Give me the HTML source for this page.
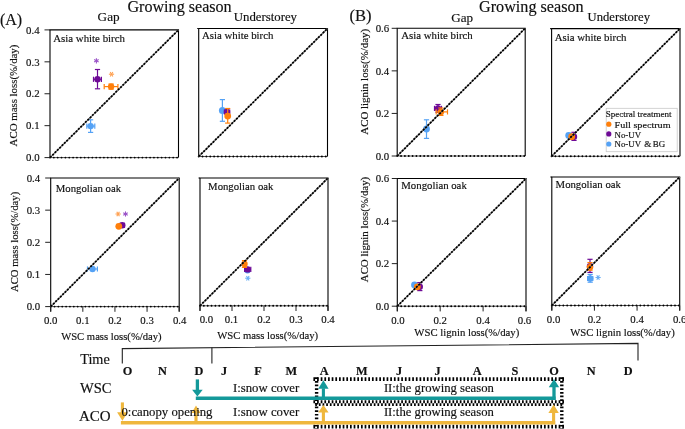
<!DOCTYPE html><html><head><meta charset="utf-8"><style>html,body{margin:0;padding:0;background:#fff;}svg{display:block;will-change:transform;filter:blur(0.3px);}</style></head><body>
<svg width="685" height="429" viewBox="0 0 685 429" font-family="'Liberation Serif', serif" fill="#111"><style>text{stroke:#111;stroke-width:0.16px;}</style>
<rect width="685" height="429" fill="#fff"/>
<line x1="50" y1="29.9" x2="50" y2="157.6" stroke="#000" stroke-width="1.1" />
<line x1="49.45" y1="29.9" x2="179.05" y2="29.9" stroke="#000" stroke-width="1.1" />
<line x1="178.5" y1="29.9" x2="178.5" y2="157.6" stroke="#000" stroke-width="1.1" />
<line x1="50" y1="157.6" x2="178.5" y2="157.6" stroke="#555" stroke-width="1.0" />
<line x1="50" y1="157.6" x2="178.5" y2="157.6" stroke="#000" stroke-width="1.9" stroke-linecap="round" stroke-dasharray="0 3.85"/>
<line x1="90.6" y1="119.8" x2="90.6" y2="132.4" stroke="#55a2f5" stroke-width="1.2" />
<line x1="88" y1="119.8" x2="93.2" y2="119.8" stroke="#55a2f5" stroke-width="1.2" />
<line x1="88" y1="132.4" x2="93.2" y2="132.4" stroke="#55a2f5" stroke-width="1.2" />
<line x1="86.8" y1="126.1" x2="94.8" y2="126.1" stroke="#55a2f5" stroke-width="1.2" />
<line x1="86.8" y1="123.5" x2="86.8" y2="128.7" stroke="#55a2f5" stroke-width="1.2" />
<line x1="94.8" y1="123.5" x2="94.8" y2="128.7" stroke="#55a2f5" stroke-width="1.2" />
<circle cx="90.6" cy="126.1" r="3.2" fill="#55a2f5"/>
<line x1="97.5" y1="69.5" x2="97.5" y2="88.8" stroke="#6e0a96" stroke-width="1.2" />
<line x1="94.9" y1="69.5" x2="100.1" y2="69.5" stroke="#6e0a96" stroke-width="1.2" />
<line x1="94.9" y1="88.8" x2="100.1" y2="88.8" stroke="#6e0a96" stroke-width="1.2" />
<line x1="93.5" y1="79.3" x2="101.4" y2="79.3" stroke="#6e0a96" stroke-width="1.2" />
<line x1="93.5" y1="76.7" x2="93.5" y2="81.9" stroke="#6e0a96" stroke-width="1.2" />
<line x1="101.4" y1="76.7" x2="101.4" y2="81.9" stroke="#6e0a96" stroke-width="1.2" />
<circle cx="97.5" cy="79.3" r="3.2" fill="#6e0a96"/>
<line x1="111.1" y1="84" x2="111.1" y2="89.2" stroke="#ff7f0a" stroke-width="1.2" />
<line x1="108.5" y1="84" x2="113.7" y2="84" stroke="#ff7f0a" stroke-width="1.2" />
<line x1="108.5" y1="89.2" x2="113.7" y2="89.2" stroke="#ff7f0a" stroke-width="1.2" />
<line x1="104.2" y1="86.6" x2="117.9" y2="86.6" stroke="#ff7f0a" stroke-width="1.2" />
<line x1="104.2" y1="84" x2="104.2" y2="89.2" stroke="#ff7f0a" stroke-width="1.2" />
<line x1="117.9" y1="84" x2="117.9" y2="89.2" stroke="#ff7f0a" stroke-width="1.2" />
<circle cx="111.1" cy="86.6" r="3.2" fill="#ff7f0a"/>
<line x1="96.4" y1="58.2" x2="96.4" y2="63.4" stroke="#9b55c8" stroke-width="1.1" />
<line x1="98.65" y1="59.5" x2="94.15" y2="62.1" stroke="#9b55c8" stroke-width="1.1" />
<line x1="98.65" y1="62.1" x2="94.15" y2="59.5" stroke="#9b55c8" stroke-width="1.1" />
<line x1="108.9" y1="74.2" x2="114.1" y2="74.2" stroke="#ffa050" stroke-width="1.1" />
<line x1="110.2" y1="71.95" x2="112.8" y2="76.45" stroke="#ffa050" stroke-width="1.1" />
<line x1="112.8" y1="71.95" x2="110.2" y2="76.45" stroke="#ffa050" stroke-width="1.1" />
<line x1="50" y1="157.6" x2="178.5" y2="29.9" stroke="#777" stroke-width="1.1"/>
<line x1="50" y1="157.6" x2="178.5" y2="29.9" stroke="#000" stroke-width="1.75" stroke-dasharray="2.1 1.2"/>
<line x1="44.5" y1="157.6" x2="50" y2="157.6" stroke="#222" stroke-width="1.0" />
<text x="39.6" y="161.3" font-size="10.8" text-anchor="end" font-weight="normal" >0.0</text>
<line x1="44.5" y1="125.67" x2="50" y2="125.67" stroke="#222" stroke-width="1.0" />
<text x="39.6" y="129.38" font-size="10.8" text-anchor="end" font-weight="normal" >0.1</text>
<line x1="44.5" y1="93.75" x2="50" y2="93.75" stroke="#222" stroke-width="1.0" />
<text x="39.6" y="97.45" font-size="10.8" text-anchor="end" font-weight="normal" >0.2</text>
<line x1="44.5" y1="61.83" x2="50" y2="61.83" stroke="#222" stroke-width="1.0" />
<text x="39.6" y="65.53" font-size="10.8" text-anchor="end" font-weight="normal" >0.3</text>
<line x1="44.5" y1="29.9" x2="50" y2="29.9" stroke="#222" stroke-width="1.0" />
<text x="39.6" y="33.6" font-size="10.8" text-anchor="end" font-weight="normal" >0.4</text>
<text x="53.2" y="41.7" font-size="10.8" text-anchor="start" font-weight="normal"  textLength="71.8" lengthAdjust="spacingAndGlyphs">Asia white birch</text>
<line x1="198.7" y1="28.5" x2="198.7" y2="156.5" stroke="#000" stroke-width="1.1" />
<line x1="198.15" y1="28.5" x2="328.05" y2="28.5" stroke="#000" stroke-width="1.1" />
<line x1="327.5" y1="28.5" x2="327.5" y2="156.5" stroke="#000" stroke-width="1.1" />
<line x1="198.7" y1="156.5" x2="327.5" y2="156.5" stroke="#555" stroke-width="1.0" />
<line x1="198.7" y1="156.5" x2="327.5" y2="156.5" stroke="#000" stroke-width="1.9" stroke-linecap="round" stroke-dasharray="0 3.85"/>
<line x1="222.4" y1="99.6" x2="222.4" y2="121.3" stroke="#55a2f5" stroke-width="1.2" />
<line x1="219.8" y1="99.6" x2="225" y2="99.6" stroke="#55a2f5" stroke-width="1.2" />
<line x1="219.8" y1="121.3" x2="225" y2="121.3" stroke="#55a2f5" stroke-width="1.2" />
<circle cx="222.4" cy="110.5" r="3.5" fill="#55a2f5"/>
<line x1="224.4" y1="112" x2="229.7" y2="112" stroke="#6e0a96" stroke-width="1.2" />
<line x1="224.4" y1="109.4" x2="224.4" y2="114.6" stroke="#6e0a96" stroke-width="1.2" />
<line x1="229.7" y1="109.4" x2="229.7" y2="114.6" stroke="#6e0a96" stroke-width="1.2" />
<circle cx="227" cy="112" r="3.2" fill="#6e0a96"/>
<line x1="227.7" y1="108.5" x2="227.7" y2="123.1" stroke="#ff7f0a" stroke-width="1.2" />
<line x1="225.1" y1="108.5" x2="230.3" y2="108.5" stroke="#ff7f0a" stroke-width="1.2" />
<line x1="225.1" y1="123.1" x2="230.3" y2="123.1" stroke="#ff7f0a" stroke-width="1.2" />
<circle cx="227.7" cy="116.1" r="3.4" fill="#ff7f0a"/>
<line x1="198.7" y1="156.5" x2="327.5" y2="28.5" stroke="#777" stroke-width="1.1"/>
<line x1="198.7" y1="156.5" x2="327.5" y2="28.5" stroke="#000" stroke-width="1.75" stroke-dasharray="2.1 1.2"/>
<line x1="197.2" y1="28.5" x2="198.7" y2="28.5" stroke="#111" stroke-width="1.2" />
<text x="201.9" y="39.4" font-size="10.8" text-anchor="start" font-weight="normal"  textLength="71.5" lengthAdjust="spacingAndGlyphs">Asia white birch</text>
<line x1="50.7" y1="178" x2="50.7" y2="311.6" stroke="#000" stroke-width="1.1" />
<line x1="50.15" y1="178" x2="179.75" y2="178" stroke="#000" stroke-width="1.1" />
<line x1="179.2" y1="178" x2="179.2" y2="311.6" stroke="#000" stroke-width="1.1" />
<line x1="50.7" y1="306.6" x2="179.2" y2="306.6" stroke="#555" stroke-width="1.0" />
<line x1="50.7" y1="306.6" x2="179.2" y2="306.6" stroke="#000" stroke-width="1.9" stroke-linecap="round" stroke-dasharray="0 3.85"/>
<line x1="87.5" y1="269" x2="97.4" y2="269" stroke="#55a2f5" stroke-width="1.2" />
<line x1="87.5" y1="266.4" x2="87.5" y2="271.6" stroke="#55a2f5" stroke-width="1.2" />
<line x1="97.4" y1="266.4" x2="97.4" y2="271.6" stroke="#55a2f5" stroke-width="1.2" />
<circle cx="92.5" cy="269" r="3.2" fill="#55a2f5"/>
<line x1="120.2" y1="225.3" x2="124.5" y2="225.3" stroke="#6e0a96" stroke-width="1.2" />
<line x1="120.2" y1="222.7" x2="120.2" y2="227.9" stroke="#6e0a96" stroke-width="1.2" />
<line x1="124.5" y1="222.7" x2="124.5" y2="227.9" stroke="#6e0a96" stroke-width="1.2" />
<circle cx="122.2" cy="225.3" r="3.2" fill="#6e0a96"/>
<circle cx="118.8" cy="226.3" r="3.4" fill="#ff7f0a"/>
<line x1="115.5" y1="214" x2="120.7" y2="214" stroke="#ffa050" stroke-width="1.1" />
<line x1="116.8" y1="211.75" x2="119.4" y2="216.25" stroke="#ffa050" stroke-width="1.1" />
<line x1="119.4" y1="211.75" x2="116.8" y2="216.25" stroke="#ffa050" stroke-width="1.1" />
<line x1="125.5" y1="211.4" x2="125.5" y2="216.6" stroke="#9b55c8" stroke-width="1.1" />
<line x1="127.75" y1="212.7" x2="123.25" y2="215.3" stroke="#9b55c8" stroke-width="1.1" />
<line x1="127.75" y1="215.3" x2="123.25" y2="212.7" stroke="#9b55c8" stroke-width="1.1" />
<line x1="50.7" y1="306.6" x2="179.2" y2="178" stroke="#777" stroke-width="1.1"/>
<line x1="50.7" y1="306.6" x2="179.2" y2="178" stroke="#000" stroke-width="1.75" stroke-dasharray="2.1 1.2"/>
<line x1="45.2" y1="306.6" x2="50.7" y2="306.6" stroke="#222" stroke-width="1.0" />
<text x="40.2" y="310.3" font-size="10.8" text-anchor="end" font-weight="normal" >0.0</text>
<line x1="45.2" y1="274.45" x2="50.7" y2="274.45" stroke="#222" stroke-width="1.0" />
<text x="40.2" y="278.15" font-size="10.8" text-anchor="end" font-weight="normal" >0.1</text>
<line x1="45.2" y1="242.3" x2="50.7" y2="242.3" stroke="#222" stroke-width="1.0" />
<text x="40.2" y="246" font-size="10.8" text-anchor="end" font-weight="normal" >0.2</text>
<line x1="45.2" y1="210.15" x2="50.7" y2="210.15" stroke="#222" stroke-width="1.0" />
<text x="40.2" y="213.85" font-size="10.8" text-anchor="end" font-weight="normal" >0.3</text>
<line x1="45.2" y1="178" x2="50.7" y2="178" stroke="#222" stroke-width="1.0" />
<text x="40.2" y="181.7" font-size="10.8" text-anchor="end" font-weight="normal" >0.4</text>
<line x1="50.7" y1="306.6" x2="50.7" y2="311.8" stroke="#222" stroke-width="1.0" />
<text x="50.7" y="323.6" font-size="10.8" text-anchor="middle" font-weight="normal" >0.0</text>
<line x1="82.83" y1="306.6" x2="82.83" y2="311.8" stroke="#222" stroke-width="1.0" />
<text x="82.83" y="323.6" font-size="10.8" text-anchor="middle" font-weight="normal" >0.1</text>
<line x1="114.95" y1="306.6" x2="114.95" y2="311.8" stroke="#222" stroke-width="1.0" />
<text x="114.95" y="323.6" font-size="10.8" text-anchor="middle" font-weight="normal" >0.2</text>
<line x1="147.07" y1="306.6" x2="147.07" y2="311.8" stroke="#222" stroke-width="1.0" />
<text x="147.07" y="323.6" font-size="10.8" text-anchor="middle" font-weight="normal" >0.3</text>
<line x1="179.2" y1="306.6" x2="179.2" y2="311.8" stroke="#222" stroke-width="1.0" />
<text x="179.7" y="323.6" font-size="10.8" text-anchor="middle" font-weight="normal" >0.4</text>
<text x="55.8" y="191.5" font-size="10.8" text-anchor="start" font-weight="normal"  textLength="65.3" lengthAdjust="spacingAndGlyphs">Mongolian oak</text>
<line x1="200" y1="178" x2="200" y2="310.8" stroke="#000" stroke-width="1.1" />
<line x1="199.45" y1="178" x2="328.55" y2="178" stroke="#000" stroke-width="1.1" />
<line x1="328" y1="178" x2="328" y2="310.8" stroke="#000" stroke-width="1.1" />
<line x1="200" y1="305.8" x2="328" y2="305.8" stroke="#555" stroke-width="1.0" />
<line x1="200" y1="305.8" x2="328" y2="305.8" stroke="#000" stroke-width="1.9" stroke-linecap="round" stroke-dasharray="0 3.85"/>
<circle cx="247.5" cy="270.3" r="3.2" fill="#55a2f5"/>
<line x1="244.6" y1="269.4" x2="250.8" y2="269.4" stroke="#6e0a96" stroke-width="1.2" />
<line x1="244.6" y1="266.8" x2="244.6" y2="272" stroke="#6e0a96" stroke-width="1.2" />
<line x1="250.8" y1="266.8" x2="250.8" y2="272" stroke="#6e0a96" stroke-width="1.2" />
<circle cx="247.7" cy="269.4" r="3.2" fill="#6e0a96"/>
<line x1="244.5" y1="260.6" x2="244.5" y2="267.4" stroke="#ff7f0a" stroke-width="1.2" />
<line x1="241.9" y1="260.6" x2="247.1" y2="260.6" stroke="#ff7f0a" stroke-width="1.2" />
<line x1="241.9" y1="267.4" x2="247.1" y2="267.4" stroke="#ff7f0a" stroke-width="1.2" />
<circle cx="244.5" cy="264" r="3.2" fill="#ff7f0a"/>
<line x1="245.2" y1="278.2" x2="250.4" y2="278.2" stroke="#6aaef5" stroke-width="1.1" />
<line x1="246.5" y1="275.95" x2="249.1" y2="280.45" stroke="#6aaef5" stroke-width="1.1" />
<line x1="249.1" y1="275.95" x2="246.5" y2="280.45" stroke="#6aaef5" stroke-width="1.1" />
<line x1="200" y1="305.8" x2="328" y2="178" stroke="#777" stroke-width="1.1"/>
<line x1="200" y1="305.8" x2="328" y2="178" stroke="#000" stroke-width="1.75" stroke-dasharray="2.1 1.2"/>
<line x1="198.5" y1="178" x2="200" y2="178" stroke="#111" stroke-width="1.2" />
<line x1="200" y1="305.8" x2="200" y2="311" stroke="#222" stroke-width="1.0" />
<text x="206.4" y="322.8" font-size="10.8" text-anchor="middle" font-weight="normal" >0.0</text>
<line x1="232" y1="305.8" x2="232" y2="311" stroke="#222" stroke-width="1.0" />
<text x="231.5" y="322.8" font-size="10.8" text-anchor="middle" font-weight="normal" >0.1</text>
<line x1="264" y1="305.8" x2="264" y2="311" stroke="#222" stroke-width="1.0" />
<text x="264" y="322.8" font-size="10.8" text-anchor="middle" font-weight="normal" >0.2</text>
<line x1="296" y1="305.8" x2="296" y2="311" stroke="#222" stroke-width="1.0" />
<text x="296" y="322.8" font-size="10.8" text-anchor="middle" font-weight="normal" >0.3</text>
<line x1="328" y1="305.8" x2="328" y2="311" stroke="#222" stroke-width="1.0" />
<text x="328" y="322.8" font-size="10.8" text-anchor="middle" font-weight="normal" >0.4</text>
<text x="208.1" y="189.5" font-size="10.8" text-anchor="start" font-weight="normal"  textLength="65.3" lengthAdjust="spacingAndGlyphs">Mongolian oak</text>
<line x1="397.2" y1="28.3" x2="397.2" y2="156" stroke="#000" stroke-width="1.1" />
<line x1="396.65" y1="28.3" x2="525.75" y2="28.3" stroke="#000" stroke-width="1.1" />
<line x1="525.2" y1="28.3" x2="525.2" y2="156" stroke="#000" stroke-width="1.1" />
<line x1="397.2" y1="156" x2="525.2" y2="156" stroke="#555" stroke-width="1.0" />
<line x1="397.2" y1="156" x2="525.2" y2="156" stroke="#000" stroke-width="1.9" stroke-linecap="round" stroke-dasharray="0 3.85"/>
<line x1="426.5" y1="119.8" x2="426.5" y2="138.4" stroke="#55a2f5" stroke-width="1.2" />
<line x1="423.9" y1="119.8" x2="429.1" y2="119.8" stroke="#55a2f5" stroke-width="1.2" />
<line x1="423.9" y1="138.4" x2="429.1" y2="138.4" stroke="#55a2f5" stroke-width="1.2" />
<circle cx="426.5" cy="129" r="3.4" fill="#55a2f5"/>
<line x1="438" y1="104.5" x2="438" y2="112.3" stroke="#6e0a96" stroke-width="1.2" />
<line x1="435.4" y1="104.5" x2="440.6" y2="104.5" stroke="#6e0a96" stroke-width="1.2" />
<line x1="435.4" y1="112.3" x2="440.6" y2="112.3" stroke="#6e0a96" stroke-width="1.2" />
<line x1="434.5" y1="108.4" x2="441.5" y2="108.4" stroke="#6e0a96" stroke-width="1.2" />
<line x1="434.5" y1="105.8" x2="434.5" y2="111" stroke="#6e0a96" stroke-width="1.2" />
<line x1="441.5" y1="105.8" x2="441.5" y2="111" stroke="#6e0a96" stroke-width="1.2" />
<circle cx="438" cy="108.4" r="3.2" fill="#6e0a96"/>
<line x1="440.9" y1="108" x2="440.9" y2="115.4" stroke="#ff7f0a" stroke-width="1.2" />
<line x1="438.3" y1="108" x2="443.5" y2="108" stroke="#ff7f0a" stroke-width="1.2" />
<line x1="438.3" y1="115.4" x2="443.5" y2="115.4" stroke="#ff7f0a" stroke-width="1.2" />
<line x1="436.2" y1="111.9" x2="447.5" y2="111.9" stroke="#ff7f0a" stroke-width="1.2" />
<line x1="436.2" y1="109.3" x2="436.2" y2="114.5" stroke="#ff7f0a" stroke-width="1.2" />
<line x1="447.5" y1="109.3" x2="447.5" y2="114.5" stroke="#ff7f0a" stroke-width="1.2" />
<circle cx="440.9" cy="111.9" r="3.2" fill="#ff7f0a"/>
<line x1="397.2" y1="156" x2="525.2" y2="28.3" stroke="#777" stroke-width="1.1"/>
<line x1="397.2" y1="156" x2="525.2" y2="28.3" stroke="#000" stroke-width="1.75" stroke-dasharray="2.1 1.2"/>
<line x1="391.7" y1="156" x2="397.2" y2="156" stroke="#222" stroke-width="1.0" />
<text x="389.2" y="159.7" font-size="10.8" text-anchor="end" font-weight="normal" >0.0</text>
<line x1="391.7" y1="113.43" x2="397.2" y2="113.43" stroke="#222" stroke-width="1.0" />
<text x="389.2" y="117.13" font-size="10.8" text-anchor="end" font-weight="normal" >0.2</text>
<line x1="391.7" y1="70.87" x2="397.2" y2="70.87" stroke="#222" stroke-width="1.0" />
<text x="389.2" y="74.57" font-size="10.8" text-anchor="end" font-weight="normal" >0.4</text>
<line x1="391.7" y1="28.3" x2="397.2" y2="28.3" stroke="#222" stroke-width="1.0" />
<text x="389.2" y="32" font-size="10.8" text-anchor="end" font-weight="normal" >0.6</text>
<text x="401.3" y="39.2" font-size="10.8" text-anchor="start" font-weight="normal"  textLength="71.4" lengthAdjust="spacingAndGlyphs">Asia white birch</text>
<line x1="551.6" y1="28.6" x2="551.6" y2="156.3" stroke="#000" stroke-width="1.1" />
<line x1="551.05" y1="28.6" x2="680.55" y2="28.6" stroke="#000" stroke-width="1.1" />
<line x1="680" y1="28.6" x2="680" y2="156.3" stroke="#000" stroke-width="1.1" />
<line x1="551.6" y1="156.3" x2="680" y2="156.3" stroke="#555" stroke-width="1.0" />
<line x1="551.6" y1="156.3" x2="680" y2="156.3" stroke="#000" stroke-width="1.9" stroke-linecap="round" stroke-dasharray="0 3.85"/>
<circle cx="568.7" cy="135.5" r="3.4" fill="#55a2f5"/>
<line x1="574" y1="132.3" x2="574" y2="140.4" stroke="#6e0a96" stroke-width="1.2" />
<line x1="571.4" y1="132.3" x2="576.6" y2="132.3" stroke="#6e0a96" stroke-width="1.2" />
<line x1="571.4" y1="140.4" x2="576.6" y2="140.4" stroke="#6e0a96" stroke-width="1.2" />
<circle cx="574" cy="136.7" r="3.2" fill="#6e0a96"/>
<circle cx="571.7" cy="136.7" r="3.4" fill="#ff7f0a"/>
<line x1="551.6" y1="156.3" x2="680" y2="28.6" stroke="#777" stroke-width="1.1"/>
<line x1="551.6" y1="156.3" x2="680" y2="28.6" stroke="#000" stroke-width="1.75" stroke-dasharray="2.1 1.2"/>
<line x1="550.1" y1="28.6" x2="551.6" y2="28.6" stroke="#111" stroke-width="1.2" />
<text x="554.7" y="41.1" font-size="10.8" text-anchor="start" font-weight="normal"  textLength="71.7" lengthAdjust="spacingAndGlyphs">Asia white birch</text>
<line x1="397.3" y1="178.5" x2="397.3" y2="311.2" stroke="#000" stroke-width="1.1" />
<line x1="396.75" y1="178.5" x2="526.55" y2="178.5" stroke="#000" stroke-width="1.1" />
<line x1="526" y1="178.5" x2="526" y2="311.2" stroke="#000" stroke-width="1.1" />
<line x1="397.3" y1="306.2" x2="526" y2="306.2" stroke="#555" stroke-width="1.0" />
<line x1="397.3" y1="306.2" x2="526" y2="306.2" stroke="#000" stroke-width="1.9" stroke-linecap="round" stroke-dasharray="0 3.85"/>
<circle cx="414.5" cy="285" r="3.4" fill="#55a2f5"/>
<line x1="419.8" y1="282.6" x2="419.8" y2="290.6" stroke="#6e0a96" stroke-width="1.2" />
<line x1="417.2" y1="282.6" x2="422.4" y2="282.6" stroke="#6e0a96" stroke-width="1.2" />
<line x1="417.2" y1="290.6" x2="422.4" y2="290.6" stroke="#6e0a96" stroke-width="1.2" />
<circle cx="419.8" cy="286.8" r="3.2" fill="#6e0a96"/>
<circle cx="417.3" cy="286.8" r="3.4" fill="#ff7f0a"/>
<line x1="397.3" y1="306.2" x2="526" y2="178.5" stroke="#777" stroke-width="1.1"/>
<line x1="397.3" y1="306.2" x2="526" y2="178.5" stroke="#000" stroke-width="1.75" stroke-dasharray="2.1 1.2"/>
<line x1="391.8" y1="306.2" x2="397.3" y2="306.2" stroke="#222" stroke-width="1.0" />
<text x="389.2" y="309.9" font-size="10.8" text-anchor="end" font-weight="normal" >0.0</text>
<line x1="391.8" y1="263.63" x2="397.3" y2="263.63" stroke="#222" stroke-width="1.0" />
<text x="389.2" y="267.33" font-size="10.8" text-anchor="end" font-weight="normal" >0.2</text>
<line x1="391.8" y1="221.07" x2="397.3" y2="221.07" stroke="#222" stroke-width="1.0" />
<text x="389.2" y="224.77" font-size="10.8" text-anchor="end" font-weight="normal" >0.4</text>
<line x1="391.8" y1="178.5" x2="397.3" y2="178.5" stroke="#222" stroke-width="1.0" />
<text x="389.2" y="182.2" font-size="10.8" text-anchor="end" font-weight="normal" >0.6</text>
<line x1="397.3" y1="306.2" x2="397.3" y2="311.4" stroke="#222" stroke-width="1.0" />
<text x="397.9" y="324.2" font-size="10.8" text-anchor="middle" font-weight="normal" >0.0</text>
<line x1="440.2" y1="306.2" x2="440.2" y2="311.4" stroke="#222" stroke-width="1.0" />
<text x="440.2" y="324.2" font-size="10.8" text-anchor="middle" font-weight="normal" >0.2</text>
<line x1="483.1" y1="306.2" x2="483.1" y2="311.4" stroke="#222" stroke-width="1.0" />
<text x="483.1" y="324.2" font-size="10.8" text-anchor="middle" font-weight="normal" >0.4</text>
<line x1="526" y1="306.2" x2="526" y2="311.4" stroke="#222" stroke-width="1.0" />
<text x="524.5" y="324.2" font-size="10.8" text-anchor="middle" font-weight="normal" >0.6</text>
<text x="401.3" y="188.7" font-size="10.8" text-anchor="start" font-weight="normal"  textLength="65.5" lengthAdjust="spacingAndGlyphs">Mongolian oak</text>
<line x1="551.8" y1="177" x2="551.8" y2="310.5" stroke="#000" stroke-width="1.1" />
<line x1="551.25" y1="177" x2="680.25" y2="177" stroke="#000" stroke-width="1.1" />
<line x1="679.7" y1="177" x2="679.7" y2="310.5" stroke="#000" stroke-width="1.1" />
<line x1="551.8" y1="305.5" x2="679.7" y2="305.5" stroke="#555" stroke-width="1.0" />
<line x1="551.8" y1="305.5" x2="679.7" y2="305.5" stroke="#000" stroke-width="1.9" stroke-linecap="round" stroke-dasharray="0 3.85"/>
<line x1="590.2" y1="274.4" x2="590.2" y2="282.2" stroke="#55a2f5" stroke-width="1.2" />
<line x1="587.6" y1="274.4" x2="592.8" y2="274.4" stroke="#55a2f5" stroke-width="1.2" />
<line x1="587.6" y1="282.2" x2="592.8" y2="282.2" stroke="#55a2f5" stroke-width="1.2" />
<line x1="587.6" y1="278.5" x2="592.8" y2="278.5" stroke="#55a2f5" stroke-width="1.2" />
<line x1="587.6" y1="275.9" x2="587.6" y2="281.1" stroke="#55a2f5" stroke-width="1.2" />
<line x1="592.8" y1="275.9" x2="592.8" y2="281.1" stroke="#55a2f5" stroke-width="1.2" />
<circle cx="590.2" cy="278.5" r="3.2" fill="#55a2f5"/>
<line x1="590" y1="259.3" x2="590" y2="272.4" stroke="#6e0a96" stroke-width="1.2" />
<line x1="587.4" y1="259.3" x2="592.6" y2="259.3" stroke="#6e0a96" stroke-width="1.2" />
<line x1="587.4" y1="272.4" x2="592.6" y2="272.4" stroke="#6e0a96" stroke-width="1.2" />
<circle cx="590" cy="266.3" r="3.2" fill="#6e0a96"/>
<line x1="590" y1="262.6" x2="590" y2="270.2" stroke="#ff7f0a" stroke-width="1.2" />
<line x1="587.4" y1="262.6" x2="592.6" y2="262.6" stroke="#ff7f0a" stroke-width="1.2" />
<line x1="587.4" y1="270.2" x2="592.6" y2="270.2" stroke="#ff7f0a" stroke-width="1.2" />
<circle cx="590" cy="267.3" r="3.2" fill="#ff7f0a"/>
<line x1="595.5" y1="277.5" x2="600.7" y2="277.5" stroke="#6aaef5" stroke-width="1.1" />
<line x1="596.8" y1="275.25" x2="599.4" y2="279.75" stroke="#6aaef5" stroke-width="1.1" />
<line x1="599.4" y1="275.25" x2="596.8" y2="279.75" stroke="#6aaef5" stroke-width="1.1" />
<line x1="551.8" y1="305.5" x2="679.7" y2="177" stroke="#777" stroke-width="1.1"/>
<line x1="551.8" y1="305.5" x2="679.7" y2="177" stroke="#000" stroke-width="1.75" stroke-dasharray="2.1 1.2"/>
<line x1="550.3" y1="177" x2="551.8" y2="177" stroke="#111" stroke-width="1.2" />
<line x1="551.8" y1="305.5" x2="551.8" y2="310.7" stroke="#222" stroke-width="1.0" />
<text x="553.6" y="323.1" font-size="10.8" text-anchor="middle" font-weight="normal" >0.0</text>
<line x1="594.43" y1="305.5" x2="594.43" y2="310.7" stroke="#222" stroke-width="1.0" />
<text x="594.43" y="323.1" font-size="10.8" text-anchor="middle" font-weight="normal" >0.2</text>
<line x1="637.07" y1="305.5" x2="637.07" y2="310.7" stroke="#222" stroke-width="1.0" />
<text x="637.07" y="323.1" font-size="10.8" text-anchor="middle" font-weight="normal" >0.4</text>
<line x1="679.7" y1="305.5" x2="679.7" y2="310.7" stroke="#222" stroke-width="1.0" />
<text x="679.7" y="323.1" font-size="10.8" text-anchor="middle" font-weight="normal" >0.6</text>
<text x="555.6" y="188.2" font-size="10.8" text-anchor="start" font-weight="normal"  textLength="65.3" lengthAdjust="spacingAndGlyphs">Mongolian oak</text>
<text x="0" y="24.6" font-size="16" text-anchor="start" font-weight="normal"  textLength="22.2" lengthAdjust="spacingAndGlyphs">(A)</text>
<text x="349.5" y="20.8" font-size="16" text-anchor="start" font-weight="normal"  textLength="22" lengthAdjust="spacingAndGlyphs">(B)</text>
<text x="127.4" y="11.6" font-size="16" text-anchor="start" font-weight="normal"  textLength="104.3" lengthAdjust="spacingAndGlyphs">Growing season</text>
<text x="479" y="11.6" font-size="16" text-anchor="start" font-weight="normal"  textLength="104.6" lengthAdjust="spacingAndGlyphs">Growing season</text>
<text x="97.6" y="20.7" font-size="12.8" text-anchor="start" font-weight="normal"  textLength="22" lengthAdjust="spacingAndGlyphs">Gap</text>
<text x="451.2" y="22" font-size="12.8" text-anchor="start" font-weight="normal"  textLength="21.8" lengthAdjust="spacingAndGlyphs">Gap</text>
<text x="233.8" y="20.5" font-size="12.6" text-anchor="start" font-weight="normal"  textLength="63.2" lengthAdjust="spacingAndGlyphs">Understorey</text>
<text x="587.6" y="20.7" font-size="12.6" text-anchor="start" font-weight="normal"  textLength="62.4" lengthAdjust="spacingAndGlyphs">Understorey</text>
<text x="0" y="0" font-size="10.8" text-anchor="middle" textLength="101.8" lengthAdjust="spacingAndGlyphs" transform="translate(17.3,95.5) rotate(-90)">ACO mass loss(%/day)</text>
<text x="0" y="0" font-size="10.8" text-anchor="middle" textLength="100.2" lengthAdjust="spacingAndGlyphs" transform="translate(18,241.9) rotate(-90)">ACO mass loss(%/day)</text>
<text x="0" y="0" font-size="10.8" text-anchor="middle" textLength="105.8" lengthAdjust="spacingAndGlyphs" transform="translate(368,81.8) rotate(-90)">ACO lignin loss(%/day)</text>
<text x="0" y="0" font-size="10.8" text-anchor="middle" textLength="105.4" lengthAdjust="spacingAndGlyphs" transform="translate(368,229.5) rotate(-90)">ACO lignin loss(%/day)</text>
<text x="111.4" y="339.5" font-size="10.7" text-anchor="middle" font-weight="normal"  textLength="100.5" lengthAdjust="spacingAndGlyphs">WSC mass loss(%/day)</text>
<text x="267.7" y="339.2" font-size="10.7" text-anchor="middle" font-weight="normal"  textLength="101" lengthAdjust="spacingAndGlyphs">WSC mass loss(%/day)</text>
<text x="466.8" y="335.9" font-size="10.7" text-anchor="middle" font-weight="normal"  textLength="104.9" lengthAdjust="spacingAndGlyphs">WSC lignin loss(%/day)</text>
<text x="622.5" y="335.9" font-size="10.7" text-anchor="middle" font-weight="normal"  textLength="104.4" lengthAdjust="spacingAndGlyphs">WSC lignin loss(%/day)</text>
<rect x="606.2" y="108.3" width="71" height="43.4" fill="#fff" stroke="#c8c8c8" stroke-width="0.8"/>
<text x="605.7" y="117.2" font-size="9.1" text-anchor="start" font-weight="normal"  textLength="65.8" lengthAdjust="spacingAndGlyphs">Spectral treatment</text>
<circle cx="608.8" cy="124.2" r="2.6" fill="#ff7f0a"/>
<circle cx="608.8" cy="133.9" r="2.6" fill="#6e0a96"/>
<circle cx="608.8" cy="144" r="2.6" fill="#55a2f5"/>
<text x="614.5" y="127.7" font-size="9.2" text-anchor="start" font-weight="normal"  textLength="56.1" lengthAdjust="spacingAndGlyphs">Full spectrum</text>
<text x="614.5" y="137.6" font-size="9.2" text-anchor="start" font-weight="normal"  textLength="26.6" lengthAdjust="spacingAndGlyphs">No-UV</text>
<text x="614.5" y="147" font-size="9.2" text-anchor="start" font-weight="normal"  textLength="26.6" lengthAdjust="spacingAndGlyphs">No-UV</text>
<text x="644.2" y="147" font-size="9.2" text-anchor="start" font-weight="normal" >&amp;</text>
<text x="652.7" y="147" font-size="9.2" text-anchor="start" font-weight="normal"  textLength="12.4" lengthAdjust="spacingAndGlyphs">BG</text>
<path d="M122.3,363.5 L122.3,348.6 L638,343.4 L638,360.5" fill="none" stroke="#222" stroke-width="1.1"/>
<line x1="211.9" y1="347.6" x2="211.9" y2="363.5" stroke="#222" stroke-width="1.1" />
<text x="80.2" y="363.8" font-size="14.2" text-anchor="start" font-weight="normal"  textLength="29.6" lengthAdjust="spacingAndGlyphs">Time</text>
<text x="80" y="392.9" font-size="14.6" text-anchor="start" font-weight="normal"  textLength="31.6" lengthAdjust="spacingAndGlyphs">WSC</text>
<text x="79" y="420.5" font-size="14.6" text-anchor="start" font-weight="normal"  textLength="31.7" lengthAdjust="spacingAndGlyphs">ACO</text>
<text x="127.5" y="374.7" font-size="12.3" text-anchor="middle" font-weight="bold" >O</text>
<text x="162.4" y="374.7" font-size="12.3" text-anchor="middle" font-weight="bold" >N</text>
<text x="199" y="374.7" font-size="12.3" text-anchor="middle" font-weight="bold" >D</text>
<text x="224" y="374.7" font-size="12.3" text-anchor="middle" font-weight="bold" >J</text>
<text x="258.1" y="374.7" font-size="12.3" text-anchor="middle" font-weight="bold" >F</text>
<text x="291.4" y="374.7" font-size="12.3" text-anchor="middle" font-weight="bold" >M</text>
<text x="324.1" y="374.7" font-size="12.3" text-anchor="middle" font-weight="bold" >A</text>
<text x="361.7" y="374.7" font-size="12.3" text-anchor="middle" font-weight="bold" >M</text>
<text x="399" y="374.7" font-size="12.3" text-anchor="middle" font-weight="bold" >J</text>
<text x="437.5" y="374.7" font-size="12.3" text-anchor="middle" font-weight="bold" >J</text>
<text x="477.2" y="374.7" font-size="12.3" text-anchor="middle" font-weight="bold" >A</text>
<text x="514.9" y="374.7" font-size="12.3" text-anchor="middle" font-weight="bold" >S</text>
<text x="554.1" y="374.7" font-size="12.3" text-anchor="middle" font-weight="bold" >O</text>
<text x="591.2" y="374.7" font-size="12.3" text-anchor="middle" font-weight="bold" >N</text>
<text x="628.2" y="374.7" font-size="12.3" text-anchor="middle" font-weight="bold" >D</text>
<line x1="313.4" y1="379.1" x2="564" y2="379.1" stroke="#000" stroke-width="3.6" stroke-dasharray="1.7 1.96" stroke-dashoffset="0"/>
<line x1="313.4" y1="401.7" x2="564" y2="401.7" stroke="#000" stroke-width="2.9" stroke-dasharray="1.7 1.96" stroke-dashoffset="0"/>
<line x1="313.4" y1="404.6" x2="564" y2="404.6" stroke="#000" stroke-width="2.9" stroke-dasharray="1.7 1.96" stroke-dashoffset="1.83"/>
<line x1="313.4" y1="426.6" x2="564" y2="426.6" stroke="#000" stroke-width="3.6" stroke-dasharray="1.7 1.96" stroke-dashoffset="0"/>
<line x1="316.6" y1="377.3" x2="316.6" y2="429" stroke="#000" stroke-width="3.4" stroke-dasharray="1.7 1.96" stroke-dashoffset="0"/>
<line x1="561.8" y1="377.3" x2="561.8" y2="429" stroke="#000" stroke-width="3.4" stroke-dasharray="1.7 1.96" stroke-dashoffset="0"/>
<path d="M195.8,398.3 L555.6,398.3" stroke="#14999a" stroke-width="3.4" fill="none"/>
<line x1="197.4" y1="379.4" x2="197.4" y2="390.2" stroke="#14999a" stroke-width="3.3" />
<path d="M192.1,389.7 L202.7,389.7 L197.4,396.5 Z" fill="#14999a"/>
<line x1="554" y1="400" x2="554" y2="386.8" stroke="#14999a" stroke-width="3.3" />
<path d="M548.8,387.3 L559.2,387.3 L554,378.9 Z" fill="#14999a"/>
<path d="M120.9,422.7 L555.2,422.7" stroke="#efb73d" stroke-width="3.4" fill="none"/>
<line x1="122.4" y1="402.4" x2="122.4" y2="412.8" stroke="#efb73d" stroke-width="3.1" />
<path d="M117.1,412.3 L127.7,412.3 L122.4,420.8 Z" fill="#efb73d"/>
<line x1="196" y1="424" x2="196" y2="412.5" stroke="#efb73d" stroke-width="3.1" />
<path d="M191.5,413 L200.5,413 L196,405.5 Z" fill="#efb73d"/>
<line x1="323.4" y1="424" x2="323.4" y2="412" stroke="#efb73d" stroke-width="3.1" />
<path d="M318.2,412.5 L328.6,412.5 L323.4,405 Z" fill="#efb73d"/>
<line x1="553.6" y1="424" x2="553.6" y2="412.5" stroke="#efb73d" stroke-width="3.1" />
<path d="M548.4,413 L558.8,413 L553.6,404.4 Z" fill="#efb73d"/>
<line x1="323.4" y1="400" x2="323.4" y2="388.3" stroke="#14999a" stroke-width="3.1" />
<path d="M318.2,388.8 L328.6,388.8 L323.4,380.2 Z" fill="#14999a"/>
<text x="121.5" y="415.6" font-size="12.6" text-anchor="start" font-weight="normal"  textLength="91" lengthAdjust="spacingAndGlyphs">0:canopy opening</text>
<text x="233" y="391.8" font-size="12.6" text-anchor="start" font-weight="normal"  textLength="66.2" lengthAdjust="spacingAndGlyphs">I:snow cover</text>
<text x="233" y="415.7" font-size="12.6" text-anchor="start" font-weight="normal"  textLength="66.2" lengthAdjust="spacingAndGlyphs">I:snow cover</text>
<text x="383.9" y="391.7" font-size="12.6" text-anchor="start" font-weight="normal"  textLength="110" lengthAdjust="spacingAndGlyphs">II:the growing season</text>
<text x="383.9" y="415.8" font-size="12.6" text-anchor="start" font-weight="normal"  textLength="110" lengthAdjust="spacingAndGlyphs">II:the growing season</text>
</svg></body></html>
